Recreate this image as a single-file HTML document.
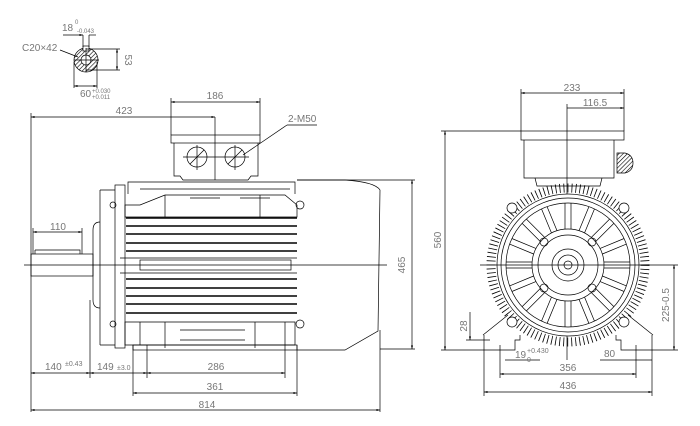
<!DOCTYPE html>
<html><head><meta charset="utf-8"><style>
html,body{margin:0;padding:0;background:#fff;}
svg{display:block}
text{font-family:"Liberation Sans",sans-serif;fill:#777;}
</style></head><body>
<svg width="700" height="426" viewBox="0 0 700 426" xmlns="http://www.w3.org/2000/svg">
<defs>
<marker id="a" viewBox="0 0 10 6" refX="10" refY="3" markerWidth="6" markerHeight="3" orient="auto-start-reverse"><path d="M0,0L10,3L0,6z" fill="#000"/></marker>
<pattern id="h" width="3" height="3" patternUnits="userSpaceOnUse" patternTransform="rotate(45)"><line x1="0" y1="0" x2="0" y2="3" stroke="#000" stroke-width="1.2"/></pattern>
</defs>
<g stroke="#000" stroke-width="0.7" fill="none">
<!-- key section -->
<circle cx="86" cy="60" r="12" fill="url(#h)"/>
<circle cx="86" cy="60" r="5" fill="#fff"/>
<rect x="83" y="46" width="6" height="5" fill="#fff"/>
<line x1="74" y1="60" x2="99" y2="60"/><line x1="86" y1="48" x2="86" y2="72"/>
<line x1="83" y1="35" x2="83" y2="47"/><line x1="89" y1="35" x2="89" y2="47"/>
<line x1="63" y1="35" x2="83" y2="35" marker-end="url(#a)"/><line x1="89" y1="35" x2="96" y2="35"/>
<line x1="86" y1="49" x2="120" y2="49"/><line x1="86" y1="70" x2="120" y2="70"/>
<line x1="117" y1="49" x2="117" y2="70" marker-start="url(#a)" marker-end="url(#a)"/>
<line x1="74" y1="62" x2="74" y2="88"/><line x1="97" y1="62" x2="97" y2="88"/>
<line x1="74" y1="86" x2="97" y2="86" marker-start="url(#a)" marker-end="url(#a)"/>
<line x1="60" y1="50" x2="78" y2="57"/>

<!-- terminal box left view -->
<line x1="171" y1="102" x2="260" y2="102" marker-start="url(#a)" marker-end="url(#a)"/>
<line x1="171" y1="98" x2="171" y2="135"/><line x1="260" y1="98" x2="260" y2="135"/>
<line x1="31" y1="117" x2="215" y2="117" marker-start="url(#a)" marker-end="url(#a)"/>
<line x1="31" y1="113" x2="31" y2="412"/>
<rect x="171" y="135" width="89" height="8"/>
<path d="M174,143V176H180L183,180H248L251,176H258V143"/>
<line x1="215" y1="117" x2="215" y2="180"/>
<circle cx="197" cy="157" r="10"/><circle cx="235" cy="157" r="10"/>
<line x1="183" y1="157" x2="249" y2="157"/><line x1="197" y1="145" x2="197" y2="170"/><line x1="235" y1="145" x2="235" y2="170"/>
<line x1="190" y1="164" x2="204" y2="150"/><line x1="228" y1="164" x2="242" y2="150"/>
<line x1="243" y1="155" x2="287" y2="125"/><line x1="287" y1="125" x2="317" y2="125"/>

<!-- body -->
<path d="M128,194V182H295V194"/>
<path d="M140,189H290"/>
<rect x="115" y="185" width="10" height="163"/>
<path d="M100,190H115M100,345H115M100,190V345"/>
<path d="M100,222Q93,222 93,230V300Q93,308 100,308"/>
<path d="M125,205H140L165,195H285L297,205V217H125Z"/>
<path d="M165,195V217M260,195V217M190,198H220M240,198H270"/>
<path d="M125,322H295V345H125Z"/>
<path d="M140,322V345M165,322V348M255,322V348M285,322V345"/>
<path d="M180,330H245M180,340H245"/>
<g stroke-width="1.4">
<line x1="126" y1="218" x2="297" y2="218"/><line x1="126" y1="226" x2="297" y2="226"/><line x1="126" y1="234" x2="297" y2="234"/><line x1="126" y1="243" x2="297" y2="243"/><line x1="126" y1="251" x2="297" y2="251"/>
<line x1="126" y1="279" x2="297" y2="279"/><line x1="126" y1="288" x2="297" y2="288"/><line x1="126" y1="296" x2="297" y2="296"/><line x1="126" y1="304" x2="297" y2="304"/><line x1="126" y1="313" x2="297" y2="313"/>
</g>
<line x1="120" y1="258" x2="297" y2="258"/><line x1="120" y1="273" x2="297" y2="273"/>
<rect x="140" y="260" width="151" height="10"/>
<circle cx="300" cy="205" r="4"/><circle cx="300" cy="324" r="4"/>
<circle cx="113" cy="205" r="3"/><circle cx="113" cy="324" r="3"/>
<line x1="133" y1="345" x2="133" y2="396"/><line x1="297" y1="345" x2="297" y2="396"/>
<rect x="133" y="345" width="164" height="5"/>
<!-- fan cover -->
<path d="M297,180H345Q375,182 380,190L378,331L345,350H297"/>
<line x1="297" y1="180" x2="415" y2="180"/><line x1="380" y1="349" x2="415" y2="349"/>
<line x1="412" y1="180" x2="412" y2="349" marker-start="url(#a)" marker-end="url(#a)"/>
<line x1="380" y1="330" x2="380" y2="412"/>
<line x1="24" y1="265" x2="387" y2="265"/>
<!-- shaft -->
<rect x="31" y="254" width="62" height="22"/>
<path d="M35,250H80V254M35,250V254"/>
<line x1="33" y1="232" x2="82" y2="232" marker-start="url(#a)" marker-end="url(#a)"/>
<line x1="33" y1="228" x2="33" y2="254"/><line x1="82" y1="228" x2="82" y2="254"/>
<!-- bottom dims -->
<line x1="90" y1="300" x2="90" y2="378"/><line x1="147" y1="345" x2="147" y2="378"/><line x1="285" y1="345" x2="285" y2="378"/>
<line x1="31" y1="373" x2="90" y2="373" marker-start="url(#a)" marker-end="url(#a)"/>
<line x1="90" y1="373" x2="147" y2="373" marker-start="url(#a)" marker-end="url(#a)"/>
<line x1="147" y1="373" x2="285" y2="373" marker-start="url(#a)" marker-end="url(#a)"/>
<line x1="133" y1="393" x2="297" y2="393" marker-start="url(#a)" marker-end="url(#a)"/>
<line x1="31" y1="410" x2="380" y2="410" marker-start="url(#a)" marker-end="url(#a)"/>

<!-- right view -->
<line x1="521" y1="93" x2="624" y2="93" marker-start="url(#a)" marker-end="url(#a)"/>
<line x1="521" y1="89" x2="521" y2="131"/><line x1="624" y1="89" x2="624" y2="131"/>
<line x1="567" y1="108" x2="624" y2="108" marker-end="url(#a)"/>
<line x1="567" y1="104" x2="567" y2="360"/>
<rect x="521" y="131" width="103" height="9"/>
<path d="M524,140V178H614V140"/>
<path d="M535,178L537,186H600L602,178"/>
<path d="M617,153H625Q633,155 633,163Q633,171 625,173H617Z" fill="url(#h)"/>
<line x1="445" y1="131" x2="445" y2="350" marker-start="url(#a)" marker-end="url(#a)"/>
<line x1="441" y1="131" x2="521" y2="131"/><line x1="441" y1="350" x2="484" y2="350"/>
<circle cx="568" cy="265" r="77" stroke-width="9" pathLength="360" style="stroke-dasharray:0.6 2.4"/>
<circle cx="568" cy="265" r="71" fill="#fff"/>
<circle cx="568" cy="265" r="67"/>
<circle cx="568" cy="265" r="62"/>
<circle cx="568" cy="265" r="36"/>
<circle cx="568" cy="265" r="30"/>
<circle cx="568" cy="265" r="16"/>
<circle cx="568" cy="265" r="10"/>
<circle cx="568" cy="265" r="4"/>
<g id="sp">
<path d="M565,229V203M571,229V203"/>
</g>
<use href="#sp" transform="rotate(22.5 568 265)"/><use href="#sp" transform="rotate(45 568 265)"/><use href="#sp" transform="rotate(67.5 568 265)"/>
<use href="#sp" transform="rotate(90 568 265)"/><use href="#sp" transform="rotate(112.5 568 265)"/><use href="#sp" transform="rotate(135 568 265)"/>
<use href="#sp" transform="rotate(157.5 568 265)"/><use href="#sp" transform="rotate(180 568 265)"/><use href="#sp" transform="rotate(202.5 568 265)"/>
<use href="#sp" transform="rotate(225 568 265)"/><use href="#sp" transform="rotate(247.5 568 265)"/><use href="#sp" transform="rotate(270 568 265)"/>
<use href="#sp" transform="rotate(292.5 568 265)"/><use href="#sp" transform="rotate(315 568 265)"/><use href="#sp" transform="rotate(337.5 568 265)"/>
<circle cx="512" cy="208" r="5" fill="#fff"/><circle cx="624" cy="208" r="5" fill="#fff"/><circle cx="512" cy="322" r="5" fill="#fff"/><circle cx="624" cy="322" r="5" fill="#fff"/>
<circle cx="544" cy="242" r="4"/><circle cx="592" cy="242" r="4"/><circle cx="544" cy="288" r="4"/><circle cx="592" cy="288" r="4"/>
<path d="M483,335L508,315M653,335L628,315"/>
<path d="M484,335V350H515V340H520V335M652,335V350H621V340H616V335"/>
<line x1="480" y1="265" x2="678" y2="265"/>
<line x1="674" y1="265" x2="674" y2="350" marker-start="url(#a)" marker-end="url(#a)"/>
<line x1="652" y1="350" x2="678" y2="350"/>
<line x1="470" y1="312" x2="470" y2="340" marker-end="url(#a)"/>
<line x1="466" y1="340" x2="490" y2="340"/>
<line x1="500" y1="345" x2="500" y2="378"/><line x1="636" y1="345" x2="636" y2="378"/>
<line x1="484" y1="350" x2="484" y2="396"/><line x1="652" y1="350" x2="652" y2="396"/>
<line x1="500" y1="374" x2="636" y2="374" marker-start="url(#a)" marker-end="url(#a)"/>
<line x1="484" y1="392" x2="652" y2="392" marker-start="url(#a)" marker-end="url(#a)"/>
<line x1="505" y1="360" x2="540" y2="360"/><line x1="600" y1="360" x2="652" y2="360"/>
</g>
<g font-size="10">
<text x="62" y="31">18</text><text x="75" y="24" font-size="6">0</text><text x="77" y="33" font-size="6">-0.043</text>
<text x="22" y="51">C20×42</text>
<text x="125" y="60" transform="rotate(90 125 60)" text-anchor="middle">53</text>
<text x="80" y="97">60</text><text x="92" y="93" font-size="6">+0.030</text><text x="92" y="99" font-size="6">+0.011</text>
<text x="215" y="99" text-anchor="middle">186</text>
<text x="124" y="114" text-anchor="middle">423</text>
<text x="288" y="122">2-M50</text>
<text x="58" y="230" text-anchor="middle">110</text>
<text x="45" y="370">140</text><text x="65" y="366" font-size="7">±0.43</text>
<text x="97" y="370">149</text><text x="117" y="370" font-size="7">±3.0</text>
<text x="216" y="370" text-anchor="middle">286</text>
<text x="215" y="390" text-anchor="middle">361</text>
<text x="207" y="408" text-anchor="middle">814</text>
<text x="405" y="265" transform="rotate(-90 405 265)" text-anchor="middle">465</text>
<text x="572" y="91" text-anchor="middle">233</text>
<text x="595" y="106" text-anchor="middle">116.5</text>
<text x="441" y="240" transform="rotate(-90 441 240)" text-anchor="middle">560</text>
<text x="467" y="326" transform="rotate(-90 467 326)" text-anchor="middle">28</text>
<text x="515" y="358">19</text><text x="527" y="353" font-size="7">+0.430</text><text x="527" y="362" font-size="7">0</text>
<text x="604" y="357">80</text>
<text x="568" y="371" text-anchor="middle">356</text>
<text x="568" y="389" text-anchor="middle">436</text>
<text x="669" y="305" transform="rotate(-90 669 305)" text-anchor="middle">225-0.5</text>
</g>
</svg>
</body></html>
